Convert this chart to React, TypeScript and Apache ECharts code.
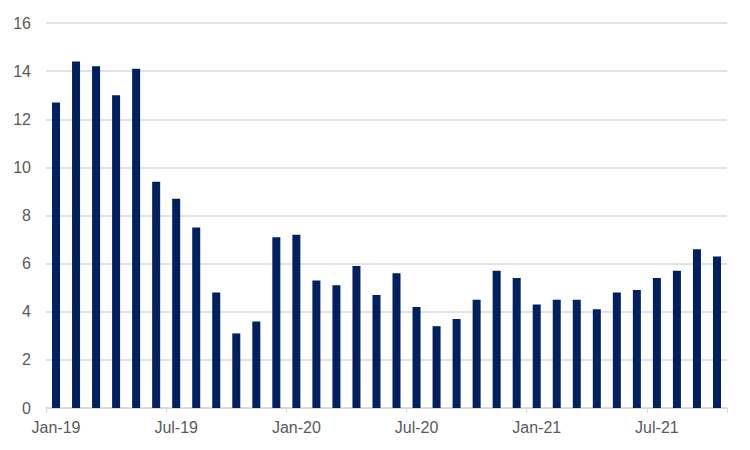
import React, { useEffect, useRef } from "react";
import * as echarts from "echarts";

const categories = [
  "Jan-19","Feb-19","Mar-19","Apr-19","May-19","Jun-19","Jul-19","Aug-19","Sep-19","Oct-19","Nov-19","Dec-19",
  "Jan-20","Feb-20","Mar-20","Apr-20","May-20","Jun-20","Jul-20","Aug-20","Sep-20","Oct-20","Nov-20","Dec-20",
  "Jan-21","Feb-21","Mar-21","Apr-21","May-21","Jun-21","Jul-21","Aug-21","Sep-21","Oct-21",
];
const values = [
  12.7, 14.4, 14.2, 13.0, 14.1, 9.4, 8.7, 7.5, 4.8, 3.1, 3.6, 7.1,
  7.2, 5.3, 5.1, 5.9, 4.7, 5.6, 4.2, 3.4, 3.7, 4.5, 5.7, 5.4,
  4.3, 4.5, 4.5, 4.1, 4.8, 4.9, 5.4, 5.7, 6.6, 6.3,
];

export default function App() {
  const ref = useRef<HTMLDivElement>(null);
  useEffect(() => {
    const chart = echarts.init(ref.current!, null, { renderer: "svg" });
    chart.setOption({
      animation: false,
      grid: { left: 46, right: 23, top: 23, bottom: 42, containLabel: false },
      xAxis: {
        type: "category",
        data: categories,
        boundaryGap: true,
        axisLine: { lineStyle: { color: "#d9d9d9", width: 1.5 } },
        axisTick: { show: true, interval: 5, length: 5, lineStyle: { color: "#d9d9d9" } },
        axisLabel: {
          interval: 5,
          color: "#595959",
          fontFamily: "Liberation Sans, Arial, sans-serif",
          fontSize: 16,
          margin: 11,
        },
      },
      yAxis: {
        type: "value",
        min: 0,
        max: 16,
        interval: 2,
        axisLine: { show: false },
        axisTick: { show: false },
        splitLine: { lineStyle: { color: "#d9d9d9", width: 1.5 } },
        axisLabel: {
          color: "#595959",
          fontFamily: "Liberation Sans, Arial, sans-serif",
          fontSize: 16,
          margin: 15,
        },
      },
      series: [
        {
          type: "bar",
          data: values,
          barWidth: 8,
          itemStyle: { color: "#002060" },
        },
      ],
    });
    return () => chart.dispose();
  }, []);
  return <div ref={ref} style={{ width: 750, height: 450, position: "absolute", left: 0, top: 0, background: "#fff" }} />;
}
